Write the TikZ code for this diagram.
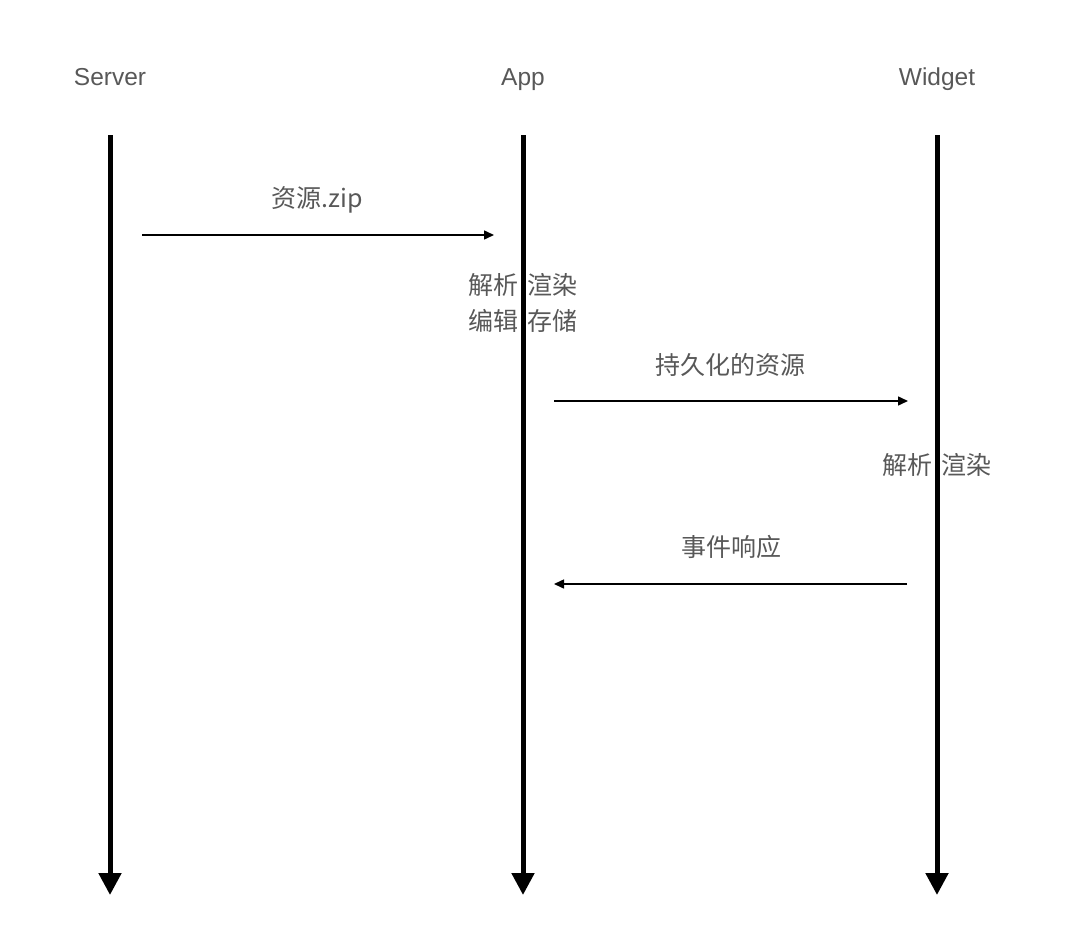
\documentclass[tikz,border=0pt]{standalone}
\usepackage{fontspec}
\setmainfont{Liberation Sans}
\newfontfamily\cjk[WordSpace=1.6]{Noto Sans CJK SC}
\usetikzlibrary{positioning,arrows.meta}
\definecolor{txtgray}{RGB}{88,88,88}
\tikzset{
  lbl/.style={text=txtgray,inner sep=0pt,text height=18pt,text depth=6pt,font=\fontsize{24.5}{36}\selectfont},
  cn/.style={lbl,font=\fontsize{25}{36}\selectfont\cjk},
  life/.style={line width=5pt,-{Triangle[width=22pt,length=22pt]}},
  msg/.style={line width=1.5pt,-{Triangle[width=9pt,length=10pt]}}
}
\begin{document}
\begin{tikzpicture}[x=1pt,y=-1pt]
		\useasboundingbox (0,0) rectangle (1072,942);
		\node[lbl] (srv) at (110,79) {Server};
		\node[lbl] (app) at (523,79) {App};
		\node[lbl] (wid) at (937,79) {Widget};
		\node[cn] (zip) at (317,201) {资源.zip};
		\node[cn] (appdo1) at (523,288) {解析 渲染};
		\node[cn] (appdo2) at (523,324) {编辑 存储};
		\node[cn] (keep) at (730,368) {持久化的资源};
		\node[cn] (widdo) at (937,468) {解析 渲染};
		\node[cn] (evt) at (731,550) {事件响应};
		
		\coordinate (srvtop) at (110,135);
		\coordinate (srvbot) at (110,895);
		\coordinate (apptop) at (523,135);
		\coordinate (appbot) at (523,895);
		\coordinate (widtop) at (937,135);
		\coordinate (widbot) at (937,895);
		\draw[life] (srvtop)--(srvbot);
		\draw[life] (apptop)--(appbot);
		\draw[life] (widtop)--(widbot);
		
		\coordinate (zipA) at (142,235);
		\coordinate (zipB) at (494,235);
		\coordinate (keepA) at (554,401);
		\coordinate (keepB) at (908,401);
		\coordinate (evtA) at (907,584);
		\coordinate (evtB) at (554,584);
		\draw[msg] (zipA)--(zipB);
		\draw[msg] (keepA)--(keepB);
		\draw[msg] (evtA)--(evtB);
	\end{tikzpicture}
\end{document}
